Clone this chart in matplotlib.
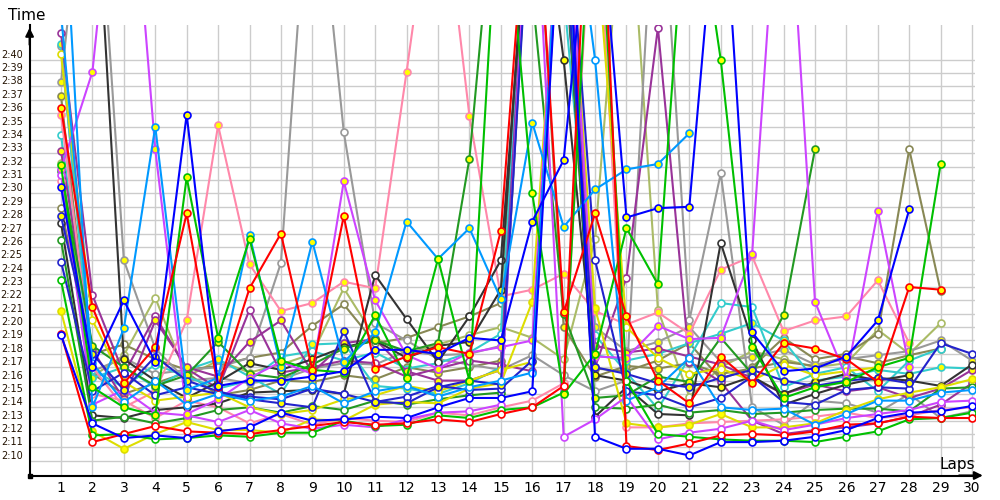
import numpy as np
import matplotlib
matplotlib.use("Agg")
import matplotlib.pyplot as plt

nan = np.nan

# lap numbers and lap times (seconds), one list per driver
laps = list(range(1, 31))

red_w = [139.5, 131.4, 132.0, 132.6, 132.2, 132.1, 132.0, 132.3, 132.6, 132.9, 132.7, 132.8, 133.1, 132.9, 133.5,
         134.0, 135.6, 185.0, 131.1, 130.8, 131.3, 131.9, 132.0, 131.9, 132.2, 132.7, 132.8, 133.3, 133.2, 133.2]
red_y = [156.4, 141.5, 135.8, 138.5, 148.5, 135.5, 142.9, 147.0, 136.8, 148.3, 136.9, 137.8, 138.5, 138.0, 147.2,
         178.0, 141.1, 148.5, 140.8, 136.0, 134.3, 137.8, 135.8, 138.8, 138.4, 137.6, 135.9, 143.0, 142.8, nan]
blue_w = [139.4, 132.8, 131.7, 131.9, 131.7, 132.2, 132.5, 133.6, 133.0, 133.1, 133.3, 133.2, 134.0, 134.7, 134.7,
          135.2, 176.0, 131.8, 130.9, 130.9, 130.4, 131.4, 131.4, 131.5, 131.8, 132.3, 133.2, 133.6, 133.7, 134.1]
blue_y = [150.5, 137.0, 142.0, 137.4, 155.9, 135.6, 136.0, 136.0, 136.3, 136.7, 138.3, 138.3, 138.0, 139.2, 139.0,
          147.9, 152.5, 176.0, 148.2, 148.9, 149.0, 176.0, 139.6, 136.7, 136.9, 137.8, 140.5, 148.8, nan, nan]
navy_w = [144.9, 135.2, 136.6, 134.9, 135.5, 135.0, 134.8, 134.6, 135.4, 135.0, 134.4, 134.8, 135.6, 135.3, 135.4,
          137.5, 176.0, 145.0, 135.2, 134.9, 134.0, 134.7, 136.3, 134.4, 134.2, 135.3, 135.5, 135.4, 138.8, 138.0]
navy_y = [148.3, 138.0, 135.3, 137.8, 136.0, 135.2, 134.6, 134.3, 134.0, 139.7, 134.4, 134.3, 135.5, 136.0, 135.7,
          175.0, 170.0, 137.0, 136.5, 135.8, 135.5, 136.2, 136.8, 136.0, 135.6, 136.0, 136.2, 135.8, nan, nan]
green_w = [143.5, 131.9, 132.0, 131.6, 131.7, 131.9, 131.8, 132.1, 132.1, 133.0, 132.6, 132.7, 133.4, 133.2, 133.8,
           134.0, 135.1, 178.0, 136.0, 132.0, 131.8, 131.6, 131.5, 131.5, 131.4, 131.8, 132.2, 133.1, 133.2, 133.6]
green_y = [152.1, 135.5, 134.0, 133.4, 151.2, 139.2, 146.6, 137.5, 136.8, 136.6, 140.9, 136.2, 145.1, 136.0, 176.0,
           150.0, 135.0, 138.0, 147.4, 143.2, 176.0, 160.0, 138.5, 134.7, 135.5, 135.9, 137.0, 137.7, 152.2, nan]
dgreen_w = [146.5, 133.0, 133.3, 132.8, 133.2, 133.8, 134.0, 133.6, 134.1, 133.8, 134.5, 134.2, 134.6, 134.9, 135.1,
            176.0, 170.0, 134.0, 133.9, 134.2, 133.6, 133.8, 133.5, 133.6, 133.8, 133.9, 133.9, 133.7, 135.4, 135.5]
dgreen_y = [151.7, 138.6, 137.0, 135.6, 136.4, 138.9, 136.5, 136.2, 137.2, 138.4, 139.0, 138.2, 138.8, 152.6, 178.0,
            165.0, 141.0, 134.7, 134.9, 136.3, 135.9, 139.2, 136.5, 140.9, 153.3, nan, nan, nan, nan, nan]
yellow_w = [160.4, 140.5, 135.9, 134.5, 134.8, 135.1, 134.0, 133.5, 133.8, 134.6, 134.9, 135.6, 135.2, 136.0, 136.8,
            137.4, 178.0, 170.0, 140.0, 137.7, 136.5, 136.9, 136.0, 137.2, 136.4, 136.7, 137.0, nan, nan, nan]
yellow_y = [141.2, 132.2, 130.9, 132.0, 132.9, 132.3, 132.3, 132.1, 133.1, 133.0, 134.2, 134.4, 134.3, 135.4, 135.8,
            141.9, 176.0, 141.4, 132.8, 132.5, 132.7, 133.5, 132.5, 132.5, 132.8, 133.8, 134.6, 135.1, 135.5, 136.1]
black_w = [147.8, 133.4, 133.2, 133.8, 134.0, 134.3, 135.1, 135.2, 135.3, 135.0, 143.9, 140.6, 137.4, 140.8, 145.0,
           175.0, 170.0, 133.3, 135.5, 133.5, 133.4, 146.3, 139.0, 134.2, 135.0, 135.7, 136.2, 136.0, 135.6, 137.2]
black_y = [175.0, 178.0, 137.6, 136.0, 134.7, 135.9, 137.3, 136.8, 137.6, 138.5, 139.0, 137.7, 138.6, 138.9, 142.8,
           178.0, 160.0, 136.4, 136.0, 135.2, 135.8, 135.5, 136.3, 135.0, 135.9, 136.5, 136.0, 136.4, nan, nan]
grey_w = [161.0, 136.7, 137.7, 136.5, 136.8, 137.0, 137.7, 144.8, 178.0, 154.6, 140.3, 139.0, 137.6, 137.2, 136.8,
          137.9, 136.4, 135.2, 136.0, 178.0, 140.5, 151.5, 134.0, 132.7, 134.5, 134.3, 133.6, 135.0, 133.2, 133.7]
grey_y = [158.3, 180.0, 145.0, 138.4, 136.0, 136.2, 135.8, 136.1, 136.9, 137.3, 137.2, 138.2, 137.9, 138.0, 138.6,
          176.0, 170.0, 140.0, 138.2, 138.9, 140.0, 137.4, 137.8, 138.3, 137.2, 137.6, 137.9, 138.2, 139.0, 137.5]
pink_w = [150.9, 135.0, 134.5, 133.2, 134.5, 134.0, 132.8, 133.5, 132.7, 133.2, 133.0, 132.9, 133.6, 133.4, 134.0,
          134.5, 135.8, 176.0, 132.5, 132.5, 132.8, 132.9, 133.0, 133.1, 133.3, 133.6, 133.2, 133.4, 133.8, 134.0]
pink_y = [155.9, 137.0, 134.0, 135.2, 140.5, 155.1, 144.7, 141.2, 141.8, 143.4, 142.9, 159.1, 176.0, 155.8, 142.3,
          142.8, 144.0, 141.2, 140.2, 141.1, 139.5, 144.3, 145.3, 139.7, 140.5, 140.8, 143.5, 138.8, nan, nan]
sky_y = [176.0, 134.0, 139.9, 155.0, 135.3, 136.2, 146.9, 137.0, 146.4, 137.4, 139.6, 147.9, 145.1, 147.4, 142.1,
         155.3, 147.5, 150.3, 151.8, 152.2, 154.5, nan, nan, nan, nan, nan, nan, nan, nan, nan]
sky_w = [163.5, 137.3, 134.4, 136.0, 134.2, 135.0, 134.5, 134.8, 135.6, 134.3, 135.2, 135.6, 134.8, 135.5, 136.0,
         136.6, 178.0, 160.0, 134.5, 135.5, 137.7, 134.0, 133.8, 133.9, 132.7, 133.5, 134.5, 134.5, 135.1, 135.3]
teal_w = [154.4, 136.8, 135.5, 137.2, 136.3, 135.4, 136.0, 137.8, 138.2, 137.5, 138.1, 136.9, 137.3, 138.1, 139.5,
          178.0, 165.0, 139.4, 136.6, 133.9, 137.7, 141.8, 141.5, 135.5, 136.5, 137.0, 135.2, 137.5, 138.4, nan]
teal_y = [161.2, 136.2, 137.0, 135.5, 136.8, 137.6, 136.3, 135.0, 138.7, 138.8, 135.6, 135.4, 135.0, 135.8, 137.0,
          178.0, 172.0, 137.9, 137.5, 138.0, 138.8, 139.5, 140.3, 139.0, 136.0, 136.3, 136.8, 136.5, 137.0, 136.9]
purple_w = [162.0, 142.4, 136.5, 140.8, 136.9, 135.4, 141.3, 136.6, 137.0, 137.5, 137.3, 136.3, 136.9, 137.5, 137.2,
            136.7, 176.0, 137.0, 143.7, 162.4, 137.4, 135.9, 133.0, 132.0, 132.3, 132.5, 132.8, 133.3, 134.2, 135.8]
purple_y = [153.2, 138.3, 134.6, 140.5, 137.0, 136.3, 138.9, 140.5, 136.6, 138.8, 139.1, 136.7, 136.0, 136.0, 136.8,
            178.0, 168.0, 138.6, 138.1, 138.4, 137.8, 137.2, 136.2, 135.0, 135.7, 135.2, 135.5, 134.7, 135.4, 136.8]
violet_w = [151.4, 134.2, 135.3, 133.6, 133.4, 132.9, 133.8, 132.8, 132.4, 132.7, 132.5, 133.1, 133.6, 133.7, 134.2,
            178.0, 131.8, 133.1, 134.8, 131.6, 132.1, 132.4, 133.0, 132.3, 132.7, 133.2, 133.5, 133.8, 134.4, 134.5]
violet_y = [151.8, 159.1, 182.0, 153.3, 133.5, 134.6, 136.2, 137.4, 136.5, 150.9, 142.0, 137.9, 136.9, 138.1, 138.5,
            139.0, 178.0, 137.8, 137.7, 140.1, 139.1, 139.2, 145.5, 180.0, 141.9, 136.2, 148.7, 137.0, nan, nan]
olive_w = [148.9, 138.0, 138.7, 137.6, 136.8, 137.1, 137.7, 138.1, 140.1, 141.7, 138.8, 139.2, 140.0, 140.8, 141.8,
           178.0, 172.0, 136.9, 136.7, 137.5, 138.8, 136.1, 137.0, 139.2, 137.6, 138.0, 139.5, 153.3, 142.7, nan]
olive_y = [157.3, 136.5, 135.0, 135.8, 136.6, 134.9, 135.3, 136.0, 135.9, 136.4, 136.1, 137.0, 136.6, 137.0, 137.5,
           178.0, 140.0, 136.3, 137.1, 136.9, 137.3, 136.5, 136.9, 137.4, 137.1, 137.8, 137.3, 137.9, 138.4, nan]
lime_w = [152.3, 136.3, 137.9, 142.2, 136.3, 137.5, 136.6, 137.2, 138.0, 142.9, 139.2, 138.0, 138.7, 139.4, 140.0,
          139.2, 137.6, 146.6, 176.0, 141.3, 134.8, 137.0, 138.2, 137.6, 137.0, 137.3, 139.8, 138.0, 140.3, nan]

# (times, line colour, marker fill)
series = [
    (lime_w, "#aabb66", "white"), (olive_w, "#888855", "white"), (olive_y, "#888855", "#ffff00"),
    (grey_w, "#999999", "white"), (grey_y, "#999999", "#ffff00"),
    (teal_w, "#33cccc", "white"), (teal_y, "#33cccc", "#ffff00"),
    (purple_w, "#993399", "white"), (purple_y, "#993399", "#ffff00"),
    (pink_w, "#ff88aa", "white"), (pink_y, "#ff88aa", "#ffff00"),
    (black_w, "#333333", "white"), (black_y, "#333333", "#ffff00"),
    (dgreen_w, "#229922", "white"), (dgreen_y, "#229922", "#ffff00"),
    (yellow_w, "#dddd00", "white"), (yellow_y, "#dddd00", "#ffff00"),
    (violet_w, "#cc44ff", "white"), (violet_y, "#cc44ff", "#ffff00"),
    (navy_w, "#2222cc", "white"), (navy_y, "#2222cc", "#ffff00"),
    (sky_w, "#0099ff", "white"), (sky_y, "#0099ff", "#ffff00"),
    (green_w, "#00c000", "white"), (green_y, "#00c000", "#ffff00"),
    (red_w, "#ff0000", "white"), (red_y, "#ff0000", "#ffff00"),
    (blue_w, "#0000ff", "white"), (blue_y, "#0000ff", "#ffff00"),
]

ytick_secs = list(range(130, 161))
ytick_labels = [f"{s // 60}:{s % 60:02d}" for s in ytick_secs]

fig = plt.figure(figsize=(10, 5), dpi=100)
ax = fig.add_axes([0.0296, 0.049, 0.9456, 0.901])

for times, col, face in series:
    ax.plot(laps, times, color=col, lw=1.5, marker="o", ms=5,
            mfc=face, mec=col, mew=1.2, zorder=3)

ax.set_xlim(0, 30.1)
ax.set_ylim(128.9, 162.6)
ax.set_xticks(laps)
ax.set_xticklabels([str(n) for n in laps], fontsize=10)
ax.set_yticks(ytick_secs)
ax.set_yticklabels(ytick_labels, fontsize=7, color="#221100")
for lab in ax.get_yticklabels():
    lab.set_verticalalignment("bottom")
ax.tick_params(length=0, pad=4)
ax.tick_params(axis="y", pad=5)
ax.grid(True, color="#cccccc", lw=1, zorder=0)

for side in ("top", "right"):
    ax.spines[side].set_visible(False)
for side in ("left", "bottom"):
    ax.spines[side].set_linewidth(1.5)
    ax.spines[side].set_zorder(5)

# axis arrows and origin mark
ax.annotate("", xy=(0, 1.0), xytext=(0, 0.95), xycoords="axes fraction",
            arrowprops=dict(arrowstyle="-|>", color="black", lw=1.5, mutation_scale=12),
            annotation_clip=False)
ax.annotate("", xy=(1.011, 0), xytext=(0.98, 0), xycoords="axes fraction",
            arrowprops=dict(arrowstyle="-|>", color="black", lw=1.5, mutation_scale=12),
            annotation_clip=False)
ax.plot([0], [0], transform=ax.transAxes, marker="s", ms=3, color="black", clip_on=False, zorder=6)

fig.text(0.008, 0.968, "Time", fontsize=11, va="center", ha="left")
fig.text(0.975, 0.071, "Laps", fontsize=11, va="center", ha="right")

fig.savefig("out.png", dpi=100)
